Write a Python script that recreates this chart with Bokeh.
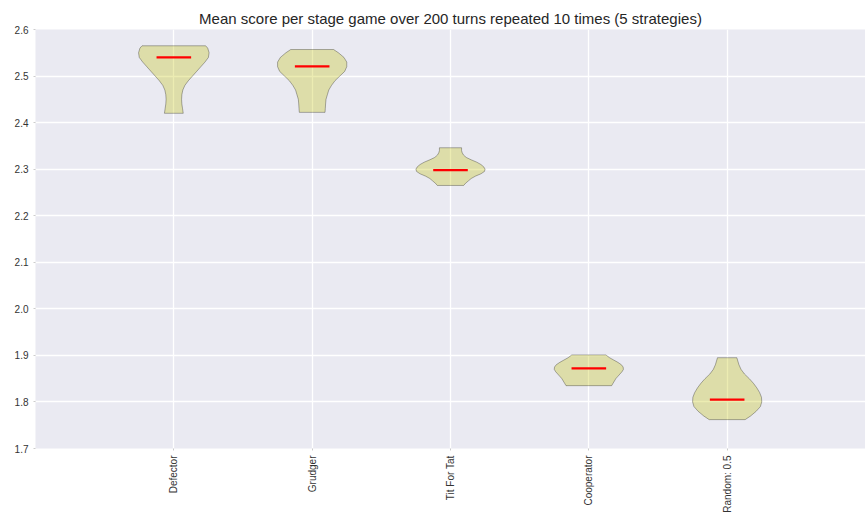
import math
from bokeh.plotting import figure
from bokeh.models import Range1d, FixedTicker
from bokeh.embed import file_html
from bokeh.resources import INLINE

# ---- data ----
strategies = ["Defector", "Grudger", "Tit For Tat", "Cooperator", "Random: 0.5"]
positions = [1, 2, 3, 4, 5]
means = [2.540, 2.521, 2.298, 1.872, 1.805]

# violin density profiles: score levels and half-widths (scaled so max = 0.25)
defector_y = [2.565, 2.560, 2.550, 2.540, 2.530, 2.520, 2.510, 2.500, 2.490, 2.480, 2.470, 2.460, 2.450, 2.440, 2.430, 2.420]
defector_w = [0.230, 0.245, 0.255, 0.250, 0.225, 0.195, 0.165, 0.135, 0.105, 0.080, 0.065, 0.058, 0.056, 0.058, 0.063, 0.068]

grudger_y = [2.557, 2.550, 2.540, 2.530, 2.520, 2.510, 2.500, 2.490, 2.480, 2.470, 2.460, 2.450, 2.440, 2.430, 2.422]
grudger_w = [0.155, 0.190, 0.230, 0.250, 0.250, 0.235, 0.200, 0.165, 0.140, 0.120, 0.110, 0.100, 0.097, 0.095, 0.093]

tft_y = [2.346, 2.340, 2.335, 2.330, 2.325, 2.320, 2.315, 2.310, 2.305, 2.300, 2.295, 2.290, 2.285, 2.280, 2.275, 2.270, 2.265]
tft_w = [0.080, 0.080, 0.085, 0.095, 0.115, 0.150, 0.190, 0.220, 0.240, 0.250, 0.245, 0.220, 0.180, 0.150, 0.130, 0.110, 0.095]

coop_y = [1.901, 1.895, 1.890, 1.885, 1.880, 1.875, 1.870, 1.865, 1.860, 1.855, 1.850, 1.845, 1.840, 1.835]
coop_w = [0.123, 0.150, 0.180, 0.210, 0.235, 0.248, 0.250, 0.240, 0.225, 0.210, 0.195, 0.185, 0.175, 0.165]

random_y = [1.895, 1.890, 1.880, 1.870, 1.860, 1.850, 1.840, 1.830, 1.820, 1.810, 1.800, 1.790, 1.780, 1.770, 1.762]
random_w = [0.070, 0.075, 0.085, 0.100, 0.125, 0.160, 0.190, 0.215, 0.235, 0.248, 0.250, 0.240, 0.210, 0.170, 0.130]

profiles_y = [defector_y, grudger_y, tft_y, coop_y, random_y]
profiles_w = [defector_w, grudger_w, tft_w, coop_w, random_w]

y_ticks = [1.7, 1.8, 1.9, 2.0, 2.1, 2.2, 2.3, 2.4, 2.5, 2.6]
y_tick_labels = ["1.7", "1.8", "1.9", "2.0", "2.1", "2.2", "2.3", "2.4", "2.5", "2.6"]

title_text = "Mean score per stage game over 200 turns repeated 10 times (5 strategies)"

# ---- figure ----
FONT = "Liberation Sans"
p = figure(frame_width=830, frame_height=419, output_backend="svg", toolbar_location=None,
           x_range=Range1d(0, 6), y_range=Range1d(1.7, 2.6),
           min_border_left=35, min_border_right=0, min_border_top=29, min_border_bottom=0)

p.title.text = title_text
p.title.align = "center"
p.title.text_font = FONT
p.title.text_font_size = "15px"
p.title.text_font_style = "normal"
p.title.text_color = "#262626"
p.title.standoff = 5

p.background_fill_color = "#EAEAF2"
p.border_fill_color = "white"
p.outline_line_color = None

for g in p.grid:
    g.grid_line_color = "white"
    g.grid_line_width = 1.3
p.xgrid.ticker = FixedTicker(ticks=positions)
p.ygrid.ticker = FixedTicker(ticks=y_ticks)

p.xaxis.ticker = FixedTicker(ticks=positions)
p.xaxis.major_label_overrides = {pos: s for pos, s in zip(positions, strategies)}
p.xaxis.major_label_orientation = math.pi / 2
p.yaxis.ticker = FixedTicker(ticks=y_ticks)
p.yaxis.major_label_overrides = {t: l for t, l in zip(y_ticks, y_tick_labels)}

for ax in (p.xaxis[0], p.yaxis[0]):
    ax.axis_line_color = None
    ax.major_tick_line_color = "#cccccc"
    ax.major_tick_out = 2
    ax.major_tick_in = 0
    ax.minor_tick_line_color = None
    ax.major_label_text_font = FONT
    ax.major_label_text_font_size = "10px"
    ax.major_label_text_color = "#333333"
    ax.major_label_standoff = 5

# violins
for pos, ys, ws in zip(positions, profiles_y, profiles_w):
    xs = [pos - w for w in ws] + [pos + w for w in reversed(ws)]
    yy = list(ys) + list(reversed(ys))
    p.patch(xs, yy, fill_color="#bfbf00", fill_alpha=0.3,
            line_color="black", line_alpha=0.3, line_width=1)

# mean lines
p.segment(x0=[pp - 0.125 for pp in positions], x1=[pp + 0.125 for pp in positions],
          y0=means, y1=means, line_color="red", line_width=2.2)

open("out.html", "w").write(file_html(p, INLINE))
